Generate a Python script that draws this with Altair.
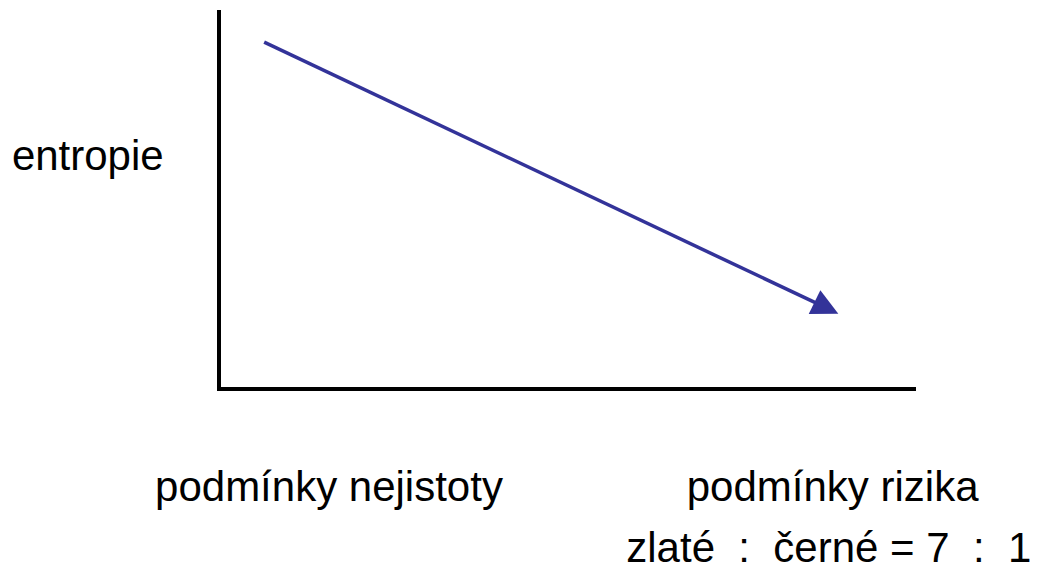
import altair as alt
import pandas as pd

# Axis frame (data units 0..100)
axis_x_start = [0, 0]
axis_x_end = [0, 100]
axis_y_start = [0, 0]
axis_y_end = [100, 0]

# Trend arrow: entropy falls from uncertainty to risk
arrow_x = [6.5, 87.4]
arrow_y = [92.0, 21.5]

# Text annotations
labels = ["entropie", "podmínky nejistoty", "podmínky rizika",
          "zlaté\u00a0 :\u00a0 černé = 7\u00a0 :\u00a0 1"]
label_x = [-29.8, -9.2, 67.3, 58.6]
label_y = [58.1, -29.7, -29.7, -46.0]

xs = alt.Scale(domain=[0, 100], nice=False, zero=False)
ys = alt.Scale(domain=[0, 100], nice=False, zero=False)

frame_df = pd.DataFrame({"x": axis_x_start, "x2": axis_x_end,
                         "y": axis_y_start, "y2": axis_y_end})
arrow_df = pd.DataFrame({"x": arrow_x, "y": arrow_y, "o": [0, 1]})
head_df = arrow_df.iloc[[1]]
text_df = pd.DataFrame({"x": label_x, "y": label_y, "t": labels})

frame = alt.Chart(frame_df).mark_rule(color="black", strokeWidth=4, strokeCap="square").encode(
    x=alt.X("x:Q", scale=xs, axis=None),
    x2="x2:Q",
    y=alt.Y("y:Q", scale=ys, axis=None),
    y2="y2:Q",
)

line = alt.Chart(arrow_df).mark_line(color="#333399", strokeWidth=3.5).encode(
    x=alt.X("x:Q", scale=xs, axis=None),
    y=alt.Y("y:Q", scale=ys, axis=None),
    order="o:Q",
)

head = alt.Chart(head_df).mark_point(
    shape="M1,0L-1,-1L-1,1Z", filled=True, fill="#333399", stroke="#333399",
    strokeWidth=0, size=700, angle=26, opacity=1,
).encode(
    x=alt.X("x:Q", scale=xs, axis=None),
    y=alt.Y("y:Q", scale=ys, axis=None),
)

text = alt.Chart(text_df).mark_text(
    align="left", baseline="alphabetic", font="Liberation Sans",
    fontSize=42, color="black", clip=False,
).encode(
    x=alt.X("x:Q", scale=xs, axis=None),
    y=alt.Y("y:Q", scale=ys, axis=None),
    text="t:N",
)

chart = alt.layer(frame, line, head, text).properties(
    width=695, height=377,
    autosize=alt.AutoSizeParams(type="none"),
    padding={"left": 211, "top": 4, "right": 119, "bottom": 181},
    background="white",
).configure_view(stroke=None)

chart.save("out.html", embed_options={"renderer": "svg", "actions": False})
